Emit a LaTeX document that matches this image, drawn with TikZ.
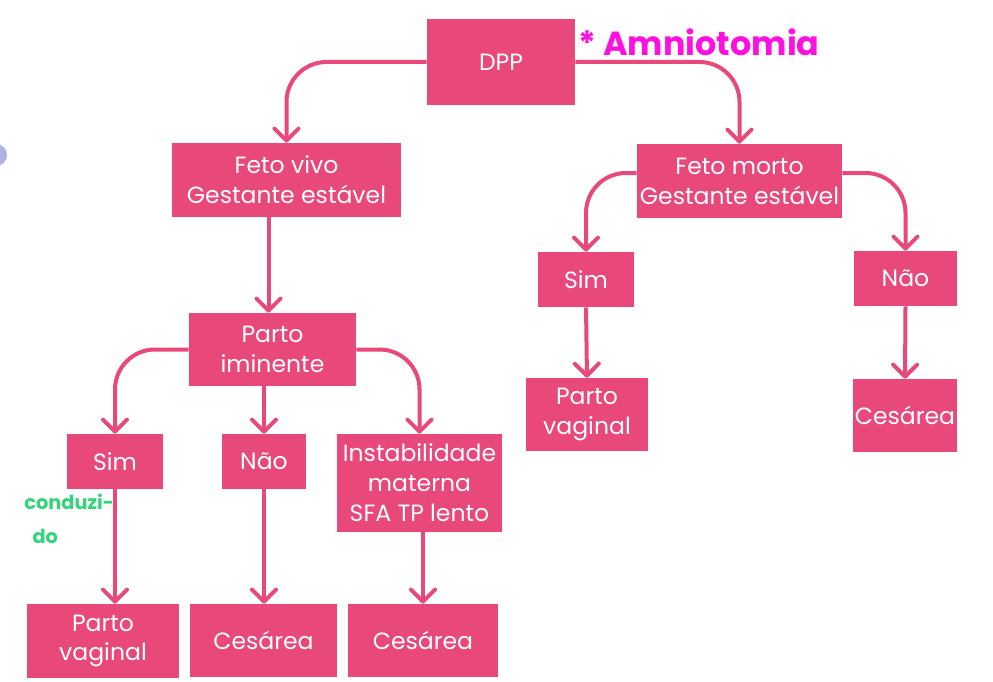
\documentclass[tikz,border=0pt]{standalone}
\usepackage{fontspec}
\setmainfont{Poppins}
\usepackage{xcolor}
\usetikzlibrary{arrows.meta}
\usetikzlibrary{positioning}

\definecolor{rosa}{HTML}{E8487A}
\definecolor{rosachoque}{HTML}{FF10E0}
\definecolor{verdecaneta}{HTML}{34D47B}
\definecolor{lilas}{HTML}{AEB3E4}

\tikzset{
    caixa/.style={rectangle, fill=rosa, text=white, align=center, inner sep=0pt,
        font=\fontsize{13.4}{17}\selectfont},
    seta/.style={draw=rosa, line width=0.08cm, rounded corners=0.8cm,
        -{Straight Barb[length=0.24cm, width=0.48cm, line cap=round, line join=round]}},
    anota/.style={inner sep=0pt, align=left, font=\bfseries},
}

\begin{document}
\begin{tikzpicture}[x=0.02cm, y=-0.02cm]
    \useasboundingbox (0,0) rectangle (993,682);
    \fill[lilas] (-4,155) circle (0.22cm);

    % topo
    \node[caixa, minimum width=2.96cm, minimum height=1.72cm] (dpp) at (501,62) {DPP};
    \node[caixa, minimum width=4.58cm, minimum height=1.48cm] (fvivo) at (286.5,180) {Feto vivo\\Gestante estável};
    \node[caixa, minimum width=4.10cm, minimum height=1.48cm] (fmorto) at (739.5,181) {Feto morto\\Gestante estável};

    % feto morto
    \node[caixa, minimum width=1.92cm, minimum height=1.10cm] (simR) at (586,279.5) {Sim};
    \node[caixa, minimum width=2.06cm, minimum height=1.10cm] (naoR) at (905.5,278.5) {Não};
    \node[caixa, minimum width=2.44cm, minimum height=1.46cm] (pvR) at (587,414.5) {Parto\\vaginal};
    \node[caixa, minimum width=2.08cm, minimum height=1.46cm] (cesR) at (905,415.5) {Cesárea};

    % feto vivo
    \node[caixa, minimum width=3.34cm, minimum height=1.46cm] (pim) at (272.5,349.5) {Parto\\iminente};
    \node[caixa, minimum width=1.92cm, minimum height=1.10cm] (simL) at (115,461.5) {Sim};
    \node[caixa, minimum width=1.68cm, minimum height=1.10cm] (naoL) at (264,461.5) {Não};
    \node[caixa, minimum width=3.30cm, minimum height=1.96cm] (inst) at (419.5,483) {Instabilidade\\materna\\SFA TP lento};
    \node[caixa, minimum width=3.04cm, minimum height=1.48cm] (pvL) at (103,641) {Parto\\vaginal};
    \node[caixa, minimum width=2.94cm, minimum height=1.46cm] (cesL) at (263.5,640.5) {Cesárea};
    \node[caixa, minimum width=3.00cm, minimum height=1.46cm] (cesM) at (423,640.5) {Cesárea};

    % setas
    \draw[seta] (dpp.west) -| (fvivo.north);
    \draw[seta] (dpp.east) -| (fmorto.north);
    \draw[seta] ([yshift=0.16cm]fmorto.west) -| (simR.north);
    \draw[seta] ([yshift=0.16cm]fmorto.east) -| (naoR.north);
    \draw[seta] (simR.south) -- (pvR.north);
    \draw[seta] (naoR.south) -- (cesR.north);
    \draw[seta] ([xshift=-0.08cm]pim.north |- fvivo.south) -- ([xshift=-0.08cm]pim.north);
    \draw[seta] (pim.west) -| (simL.north);
    \draw[seta] (naoL.north |- pim.south) -- (naoL.north);
    \draw[seta] (pim.east) -| (inst.north);
    \draw[seta] (simL.south) -- (simL.south |- pvL.north);
    \draw[seta] (naoL.south) -- (naoL.south |- cesL.north);
    \draw[seta] (cesM.north |- inst.south) -- (cesM.north);

    % anotacoes a caneta
    \node[anota, text=rosachoque, font=\bfseries\fontsize{19}{19}\selectfont, anchor=west] (amnio) at (578,42) {* Amniotomia};
    \node[anota, text=verdecaneta, font=\bfseries\fontsize{11}{19}\selectfont, anchor=north west] (cond) at (24,494) {conduzi-\\\ \ do};
\end{tikzpicture}
\end{document}
